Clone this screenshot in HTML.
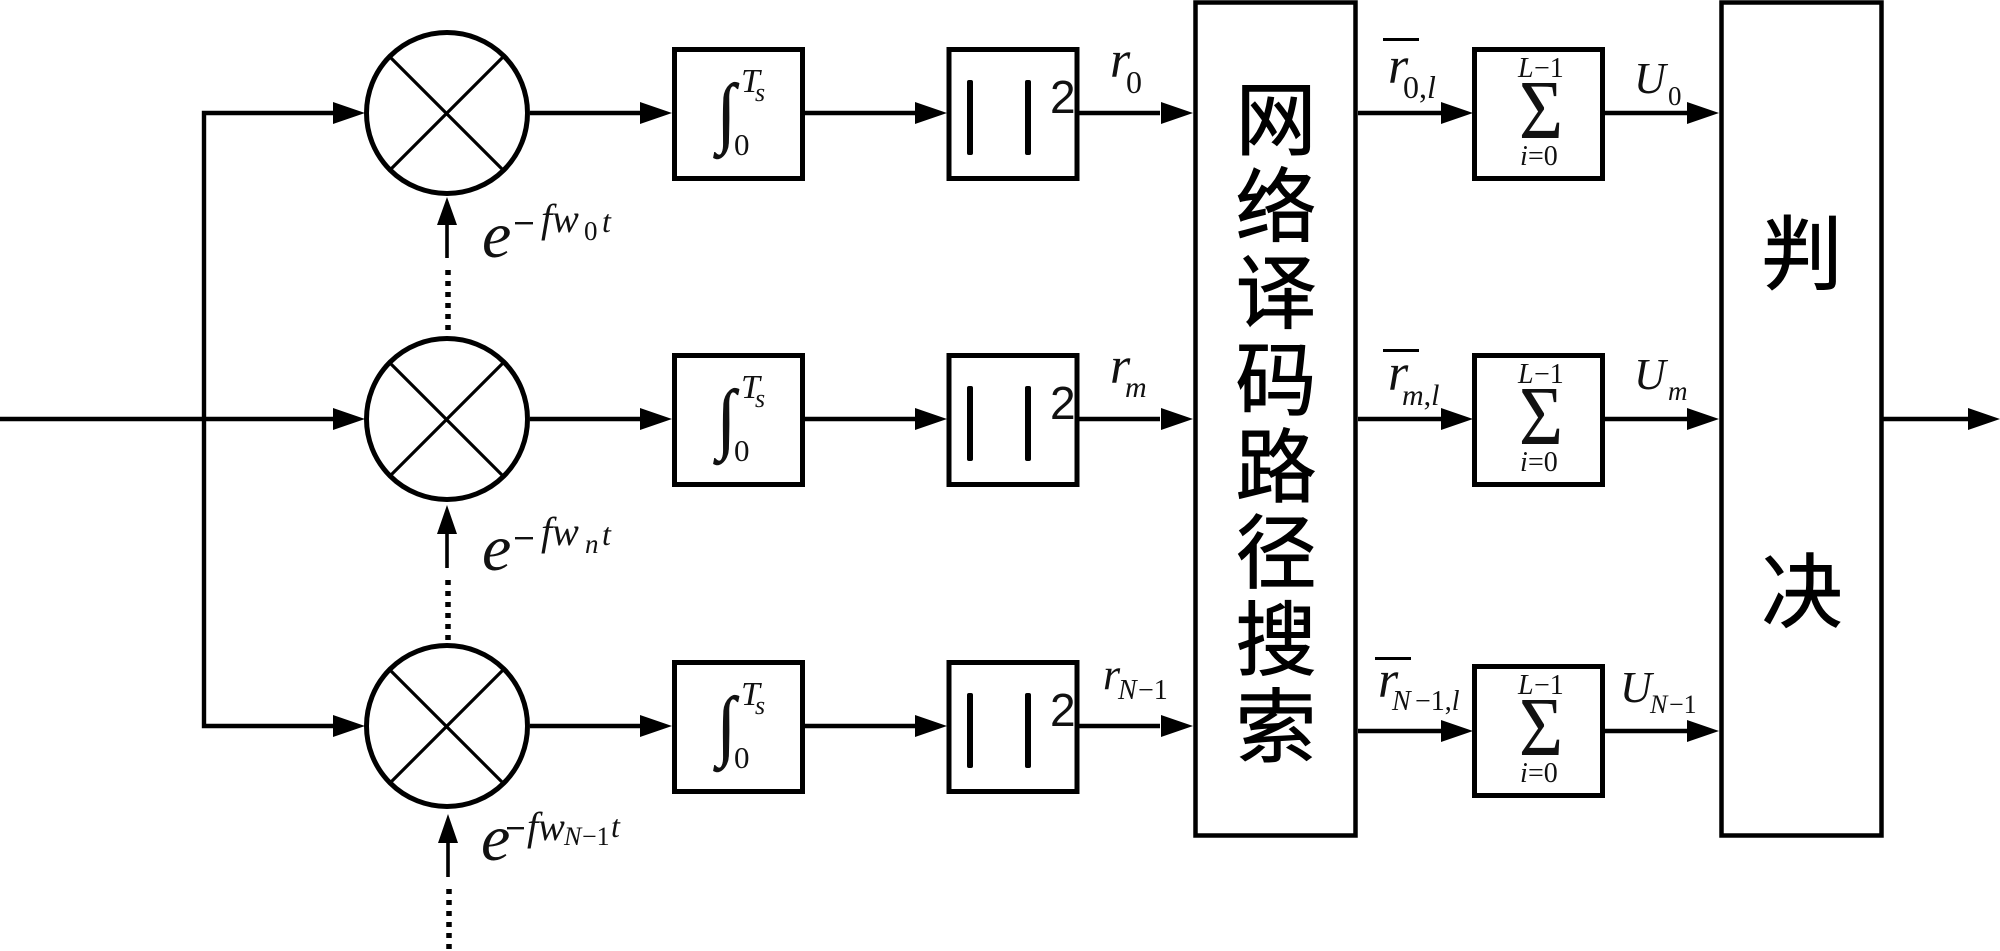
<!DOCTYPE html>
<html><head><meta charset="utf-8"><style>
html,body{margin:0;padding:0;background:#fff}
svg{display:block}
text{fill:#111;font-family:"Liberation Serif",serif}
.i{font-style:italic}
.cn{font-family:"Liberation Sans","Noto Sans CJK SC",sans-serif;font-size:81px;text-anchor:middle;fill:#000;stroke:#000;stroke-width:.9px}
</style></head><body>
<svg width="2000" height="951" viewBox="0 0 2000 951" xmlns="http://www.w3.org/2000/svg">
<defs>
<g id="row">
<circle cx="447" cy="113" r="80.5" fill="#fff" stroke="#000" stroke-width="5"/>
<path d="M390 57L503 170M503 57L390 170" stroke="#000" stroke-width="3.2" fill="none"/>
<path d="M530 113H640M805 113H915M1079 113H1160" stroke="#000" stroke-width="4.4" fill="none"/>
<path d="M672 113L640 102V124ZM947 113L915 102V124ZM1193 113L1161 102V124Z" fill="#000"/>
<rect x="674.5" y="49.5" width="128" height="129" fill="none" stroke="#000" stroke-width="5"/>
<rect x="949" y="49.5" width="128" height="129" fill="none" stroke="#000" stroke-width="5"/>
<rect x="967" y="80" width="6" height="75" rx="2" fill="#000"/>
<rect x="1025" y="80" width="6" height="75" rx="2" fill="#000"/>
<text x="1050" y="113" style="font-family:'Liberation Sans',sans-serif;font-size:46px">2</text>
<text transform="translate(717,138) scale(1,1.15)" style="font-size:68px;stroke:#111;stroke-width:.6px">∫</text>
<text x="741" y="92" class="i" style="font-size:34px">T</text>
<text x="755" y="101" class="i" style="font-size:26px">s</text>
<text x="734" y="155" style="font-size:31px">0</text>
</g>
<g id="sum">
<rect x="1474.5" y="49.5" width="128" height="129" fill="none" stroke="#000" stroke-width="5"/>
<text x="1518" y="77" class="i" style="font-size:28px">L</text>
<text x="1534" y="77" style="font-size:28px">−1</text>
<text transform="translate(1541,138) scale(.9,1)" text-anchor="middle" style="font-size:84px">Σ</text>
<text x="1520" y="165" class="i" style="font-size:28px">i</text>
<text x="1528" y="165" style="font-size:28px">=0</text>
</g>
</defs>
<use href="#row"/><use href="#row" y="306"/><use href="#row" y="613"/>
<use href="#sum"/><use href="#sum" y="306"/><use href="#sum" y="617"/>

<path d="M0 419H333M333 113H204V726H333M1883 419H1968" stroke="#000" stroke-width="4.4" fill="none"/>
<path d="M365 113L333 102V124ZM365 419L333 408V430ZM365 726L333 715V737ZM2000 419L1968 408V430Z" fill="#000"/>

<path d="M1358 113H1441M1358 419H1441M1358 731H1441M1605 113H1687M1605 419H1687M1605 731H1687" stroke="#000" stroke-width="4.4" fill="none"/>
<path d="M1473 113L1441 102V124ZM1473 419L1441 408V430ZM1473 731L1441 720V742ZM1719 113L1687 102V124ZM1719 419L1687 408V430ZM1719 731L1687 720V742Z" fill="#000"/>

<rect x="1195.5" y="2.5" width="160" height="833" fill="#fff" stroke="#000" stroke-width="4.5"/>
<rect x="1721.5" y="2.5" width="160" height="833" fill="#fff" stroke="#000" stroke-width="4.5"/>
<text class="cn" x="1276" y="149">网</text>
<text class="cn" x="1276" y="236">络</text>
<text class="cn" x="1276" y="322">译</text>
<text class="cn" x="1276" y="409">码</text>
<text class="cn" x="1276" y="496">路</text>
<text class="cn" x="1276" y="582">径</text>
<text class="cn" x="1276" y="669">搜</text>
<text class="cn" x="1276" y="756">索</text>
<text class="cn" x="1802" y="283">判</text>
<text class="cn" x="1802" y="621">决</text>

<!-- vertical carrier arrows -->
<path d="M447 197L437 225H457ZM447 505L437 534H457ZM448 814L438 843H458Z" fill="#000"/>
<path d="M447 222V258M447 530V568M448 840V877" stroke="#000" stroke-width="3.6" fill="none"/>
<path d="M448 270V334M448 580V641M449 889V951" stroke="#000" stroke-width="5.5" stroke-dasharray="5 6" fill="none"/>

<!-- exponent labels -->
<g>
<text x="482" y="257" class="i" style="font-size:66px">e</text>
<rect x="515" y="222" width="18" height="2.4" fill="#111"/>
<text x="541" y="232" class="i" style="font-size:40px">fw</text>
<text x="584" y="240" style="font-size:27px">0</text>
<text x="602" y="232" class="i" style="font-size:32px">t</text>
</g>
<g>
<text x="482" y="570" class="i" style="font-size:66px">e</text>
<rect x="515" y="537" width="18" height="2.4" fill="#111"/>
<text x="541" y="545" class="i" style="font-size:40px">fw</text>
<text x="585" y="553" class="i" style="font-size:27px">n</text>
<text x="602" y="545" class="i" style="font-size:32px">t</text>
</g>
<g>
<text x="481" y="860" class="i" style="font-size:66px">e</text>
<rect x="507" y="827" width="17" height="2.4" fill="#111"/>
<text x="527" y="840" class="i" style="font-size:40px">fw</text>
<text x="564" y="845" class="i" style="font-size:26px">N</text>
<text x="582" y="845" style="font-size:26px">−1</text>
<text x="611" y="837" class="i" style="font-size:32px">t</text>
</g>

<!-- r labels -->
<text x="1110" y="77" class="i" style="font-size:52px">r</text>
<text x="1126" y="93" style="font-size:32px">0</text>
<text x="1110" y="383" class="i" style="font-size:52px">r</text>
<text x="1125" y="397" class="i" style="font-size:30px">m</text>
<text x="1103" y="689" class="i" style="font-size:44px">r</text>
<text x="1118" y="699" class="i" style="font-size:28px">N</text>
<text x="1138" y="699" style="font-size:28px">−1</text>

<rect x="1383" y="38" width="36" height="3" fill="#000"/>
<text x="1388" y="83" class="i" style="font-size:52px">r</text>
<text x="1403" y="98" style="font-size:32px">0,<tspan class="i">l</tspan></text>
<rect x="1383" y="349" width="36" height="3" fill="#000"/>
<text x="1388" y="390" class="i" style="font-size:52px">r</text>
<text x="1402" y="405" class="i" style="font-size:30px">m<tspan style="font-style:normal">,</tspan>l</text>
<rect x="1375" y="657" width="36" height="3" fill="#000"/>
<text x="1378" y="697" class="i" style="font-size:52px">r</text>
<text x="1392" y="710" class="i" style="font-size:28px">N</text>
<text x="1415" y="710" style="font-size:28px">−1,<tspan class="i">l</tspan></text>

<text x="1634" y="93" class="i" style="font-size:44px">U</text>
<text x="1668" y="105" style="font-size:27px">0</text>
<text x="1634" y="389" class="i" style="font-size:44px">U</text>
<text x="1668" y="400" class="i" style="font-size:27px">m</text>
<text x="1620" y="702" class="i" style="font-size:44px">U</text>
<text x="1650" y="713" class="i" style="font-size:26px">N</text>
<text x="1669" y="713" style="font-size:26px">−1</text>
</svg>
</body></html>
